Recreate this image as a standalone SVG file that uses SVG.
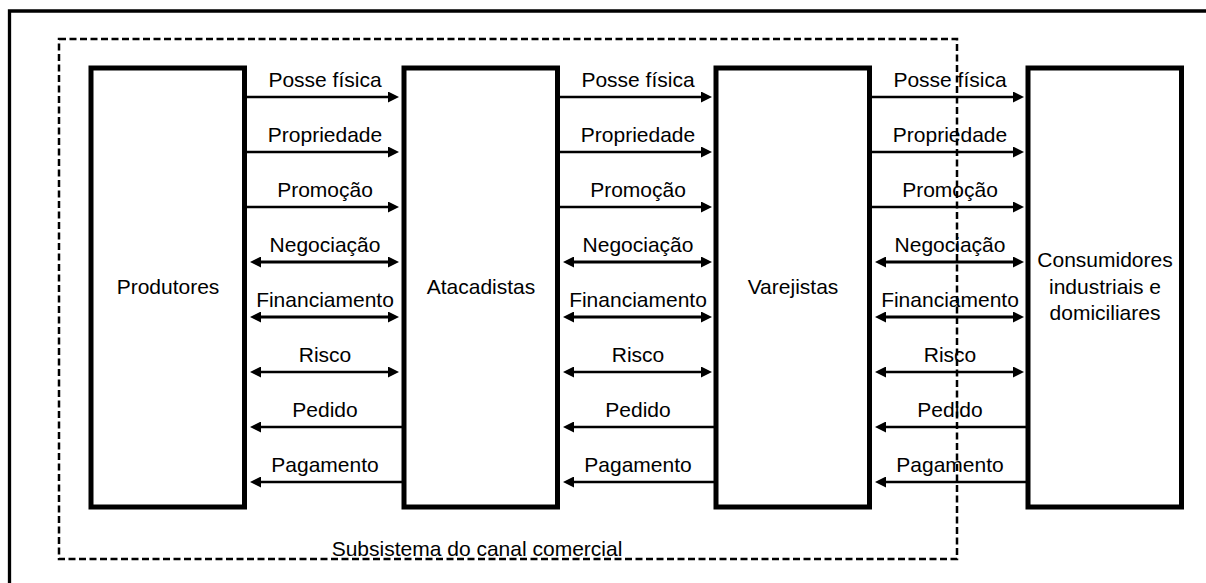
<svg xmlns="http://www.w3.org/2000/svg" width="1206" height="583" viewBox="0 0 1206 583">
<style>
  .box{fill:#fff;stroke:#000;stroke-width:5}
  .lbl{font-family:"Liberation Sans",Arial,sans-serif;font-size:21px;fill:#000;text-anchor:middle}
  .arr{stroke:#000;stroke-width:2.3;fill:none}
  .thk{stroke-width:3.2}
  .fwd{marker-end:url(#ah)}
  .bwd{marker-start:url(#ah)}
  .both{marker-start:url(#ah);marker-end:url(#ah)}
</style>
<defs>
  <marker id="ah" markerUnits="userSpaceOnUse" viewBox="0 0 11 11" markerWidth="11" markerHeight="11" refX="3" refY="5.5" orient="auto-start-reverse">
    <path d="M0,0 L11,5.5 L0,11 z" fill="#000"/>
  </marker>
</defs>
<rect width="1206" height="583" fill="#fff"/>
<path d="M9.5,583 V11 H1206" fill="none" stroke="#000" stroke-width="3.3"/>
<g id="subsistema">
  <rect x="59" y="39" width="898" height="520" fill="none" stroke="#000" stroke-width="2.5" stroke-dasharray="7,3.5"/>
  <text class="lbl" x="477" y="556">Subsistema do canal comercial</text>
</g>
<g id="produtores">
  <rect class="box" x="91" y="68" width="153.5" height="439"/>
  <text class="lbl" x="168" y="294">Produtores</text>
</g>
<g id="atacadistas">
  <rect class="box" x="404" y="68" width="153.5" height="439"/>
  <text class="lbl" x="481" y="294">Atacadistas</text>
</g>
<g id="varejistas">
  <rect class="box" x="716" y="68" width="153.5" height="439"/>
  <text class="lbl" x="793" y="294">Varejistas</text>
</g>
<g id="consumidores">
  <rect class="box" x="1028" y="68" width="153.5" height="439"/>
  <text class="lbl" x="1105" y="267">Consumidores</text>
  <text class="lbl" x="1105" y="294">industriais e</text>
  <text class="lbl" x="1105" y="320">domiciliares</text>
</g>
<g id="connectors">
  <line class="arr fwd" x1="247" y1="97" x2="391" y2="97"/>
  <line class="arr fwd" x1="247" y1="152" x2="391" y2="152"/>
  <line class="arr fwd" x1="247" y1="207" x2="391" y2="207"/>
  <line class="arr thk both" x1="258" y1="262" x2="391" y2="262"/>
  <line class="arr thk both" x1="258" y1="317" x2="391" y2="317"/>
  <line class="arr both" x1="258" y1="372" x2="391" y2="372"/>
  <line class="arr bwd" x1="258" y1="427" x2="402" y2="427"/>
  <line class="arr bwd" x1="258" y1="482" x2="402" y2="482"/>
  <line class="arr fwd" x1="560" y1="97" x2="704" y2="97"/>
  <line class="arr fwd" x1="560" y1="152" x2="704" y2="152"/>
  <line class="arr fwd" x1="560" y1="207" x2="704" y2="207"/>
  <line class="arr thk both" x1="571" y1="262" x2="704" y2="262"/>
  <line class="arr thk both" x1="571" y1="317" x2="704" y2="317"/>
  <line class="arr both" x1="571" y1="372" x2="704" y2="372"/>
  <line class="arr bwd" x1="571" y1="427" x2="714" y2="427"/>
  <line class="arr bwd" x1="571" y1="482" x2="714" y2="482"/>
  <line class="arr fwd" x1="872" y1="97" x2="1016" y2="97"/>
  <line class="arr fwd" x1="872" y1="152" x2="1016" y2="152"/>
  <line class="arr fwd" x1="872" y1="207" x2="1016" y2="207"/>
  <line class="arr thk both" x1="883" y1="262" x2="1016" y2="262"/>
  <line class="arr thk both" x1="883" y1="317" x2="1016" y2="317"/>
  <line class="arr both" x1="883" y1="372" x2="1016" y2="372"/>
  <line class="arr bwd" x1="883" y1="427" x2="1026" y2="427"/>
  <line class="arr bwd" x1="883" y1="482" x2="1026" y2="482"/>
  <g>
    <text class="lbl" x="325" y="87">Posse física</text>
    <text class="lbl" x="325" y="142">Propriedade</text>
    <text class="lbl" x="325" y="197">Promoção</text>
    <text class="lbl" x="325" y="252">Negociação</text>
    <text class="lbl" x="325" y="307">Financiamento</text>
    <text class="lbl" x="325" y="362">Risco</text>
    <text class="lbl" x="325" y="417">Pedido</text>
    <text class="lbl" x="325" y="472">Pagamento</text>
    <text class="lbl" x="638" y="87">Posse física</text>
    <text class="lbl" x="638" y="142">Propriedade</text>
    <text class="lbl" x="638" y="197">Promoção</text>
    <text class="lbl" x="638" y="252">Negociação</text>
    <text class="lbl" x="638" y="307">Financiamento</text>
    <text class="lbl" x="638" y="362">Risco</text>
    <text class="lbl" x="638" y="417">Pedido</text>
    <text class="lbl" x="638" y="472">Pagamento</text>
    <text class="lbl" x="950" y="87">Posse física</text>
    <text class="lbl" x="950" y="142">Propriedade</text>
    <text class="lbl" x="950" y="197">Promoção</text>
    <text class="lbl" x="950" y="252">Negociação</text>
    <text class="lbl" x="950" y="307">Financiamento</text>
    <text class="lbl" x="950" y="362">Risco</text>
    <text class="lbl" x="950" y="417">Pedido</text>
    <text class="lbl" x="950" y="472">Pagamento</text>
  </g>
</g>
</svg>
